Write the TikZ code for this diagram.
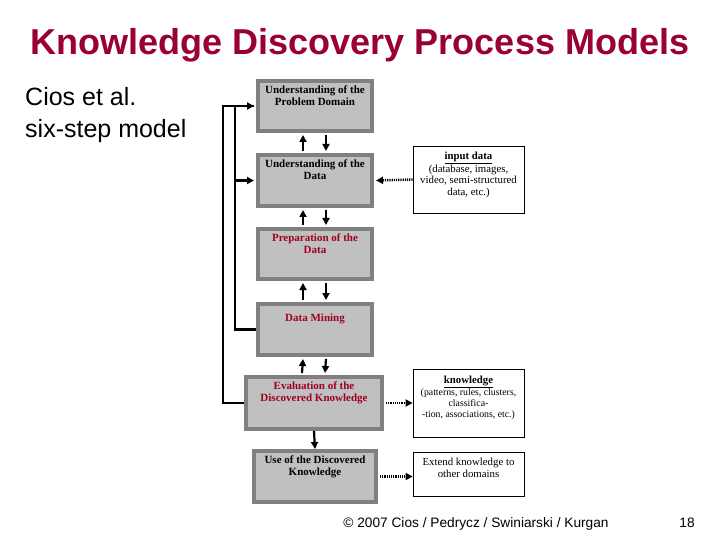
\documentclass[tikz,border=0pt]{standalone}
\usepackage{fontspec}
\setmainfont{Liberation Serif}
\setsansfont{Liberation Sans}
\usetikzlibrary{arrows.meta,calc}
\definecolor{titlered}{HTML}{990033}
\definecolor{boxred}{HTML}{A00020}
\definecolor{boxfill}{HTML}{C0C0C0}
\definecolor{boxedge}{HTML}{808080}
\tikzset{
  stepbox/.style={draw=boxedge, fill=boxfill, line width=4pt, minimum width=#1, inner sep=0pt},
  outbox/.style={draw=black, fill=white, line width=0.8pt, minimum width=111pt, inner sep=0pt},
  boxtxt/.style={font=\fontsize{11}{12}\selectfont\bfseries, align=center, inner sep=0pt, anchor=north},
  outtxt/.style={font=\fontsize{10.8}{11.5}\selectfont, align=center, inner sep=0pt, anchor=north},
  flow/.style={line width=2.2pt, -{Triangle[length=7pt,width=7pt]}},
  dotflow/.style={line width=2.4pt, dash pattern=on 1.2pt off 1pt, -{Triangle[length=7pt,width=7pt]}},
  fb/.style={line width=2.2pt}
}
\begin{document}
\begin{tikzpicture}[x=1pt,y=-1pt]
\useasboundingbox (0,0) rectangle (720,540);
% title
\node[font=\sffamily\bfseries\fontsize{36}{40}\selectfont, text=titlered, anchor=base] (title) at (360,55) {Knowledge Discovery Process Models};
\node[font=\sffamily\fontsize{25}{28}\selectfont, anchor=base west, inner sep=0pt] (cios) at (25,106) {Cios et al.};
\node[font=\sffamily\fontsize{25}{28}\selectfont, anchor=base west, inner sep=0pt] (six) at (25,138) {six-step model};
% step boxes
\node[stepbox=114pt, minimum height=50pt] (b1) at (315,106) {};
\node[stepbox=114pt, minimum height=51pt] (b2) at (315,180.5) {};
\node[stepbox=114pt, minimum height=50pt] (b3) at (315,254) {};
\node[stepbox=114pt, minimum height=51pt] (b4) at (315,329.5) {};
\node[stepbox=136pt, minimum height=52pt] (b5) at (314,403) {};
\node[stepbox=122pt, minimum height=51pt] (b6) at (315,476.5) {};
% step texts
\node[boxtxt] (t1) at ($(b1.north)+(0,7)$) {Understanding of the\\Problem Domain};
\node[boxtxt] (t2) at ($(b2.north)+(0,7)$) {Understanding of the\\Data};
\node[boxtxt, text=boxred] (t3) at ($(b3.north)+(0,7)$) {Preparation of the\\Data};
\node[boxtxt, text=boxred] (t4) at ($(b4.north)+(0,12)$) {Data Mining};
\node[boxtxt, text=boxred] (t5) at ($(b5.north)+(0,7)$) {Evaluation of the\\Discovered Knowledge};
\node[boxtxt] (t6) at ($(b6.north)+(0,7)$) {Use of the Discovered\\Knowledge};
% output boxes
\node[outbox, minimum height=67pt] (in) at (468.5,179.5) {};
\node[outbox, minimum height=68pt] (kn) at (468.5,403) {};
\node[outbox, minimum height=44pt] (ex) at (468.5,474.5) {};
\node[outtxt] (tin) at ($(in.north)+(0,6)$) {\textbf{\underline{input data}}\\(database, images,\\video, semi-structured\\data, etc.)};
\node[outtxt, font=\fontsize{9.8}{10.8}\selectfont] (tkn) at ($(kn.north)+(0,7)$) {{\fontsize{10.8}{11}\selectfont\textbf{\underline{knowledge}}}\\(patterns, rules, clusters,\\classifica-\\-tion, associations, etc.)};
\node[outtxt] (tex) at ($(ex.north)+(0,6)$) {Extend knowledge to\\other domains};
% vertical arrows
\foreach \u/\l in {b1/b2, b2/b3, b3/b4, b4/b5}{
  \draw[flow] ($(\l.north)+(-12,-2)$) -- ($(\u.south)+(-12,2)$);
  \draw[flow] ($(\u.south)+(11,2)$) -- ($(\l.north)+(11,-2)$);
}
\draw[flow] (b5.south) -- (b6.north);
% feedback loops
\coordinate (outer) at (223,0);
\coordinate (inner) at (235,0);
\draw[fb] (b5.west) -| (outer |- b1.west) -- ($(b1.west)+(-2,0)$);
\draw[flow] (inner |- b1.west) -- ($(b1.west)+(-2,0)$);
\draw[fb] (b4.west) -| (inner |- b1.west);
\draw[flow] (inner |- b2.west) -- ($(b2.west)+(-2,0)$);
% dotted arrows
\draw[dotflow] (in.west) -- ($(b2.east)+(2,0)$);
\draw[dotflow] ($(b5.east)+(2,0)$) -- (kn.west);
\draw[dotflow] ($(b6.east)+(2,0)$) -- (ex.west |- b6.east);
% footer
\node[font=\sffamily\fontsize{13.7}{15}\selectfont, anchor=base] (foot) at (476,527) {\textcopyright{} 2007 Cios / Pedrycz / Swiniarski / Kurgan};
\node[font=\sffamily\fontsize{13.7}{15}\selectfont, anchor=base] (page) at (687,527) {18};
\end{tikzpicture}
\end{document}
